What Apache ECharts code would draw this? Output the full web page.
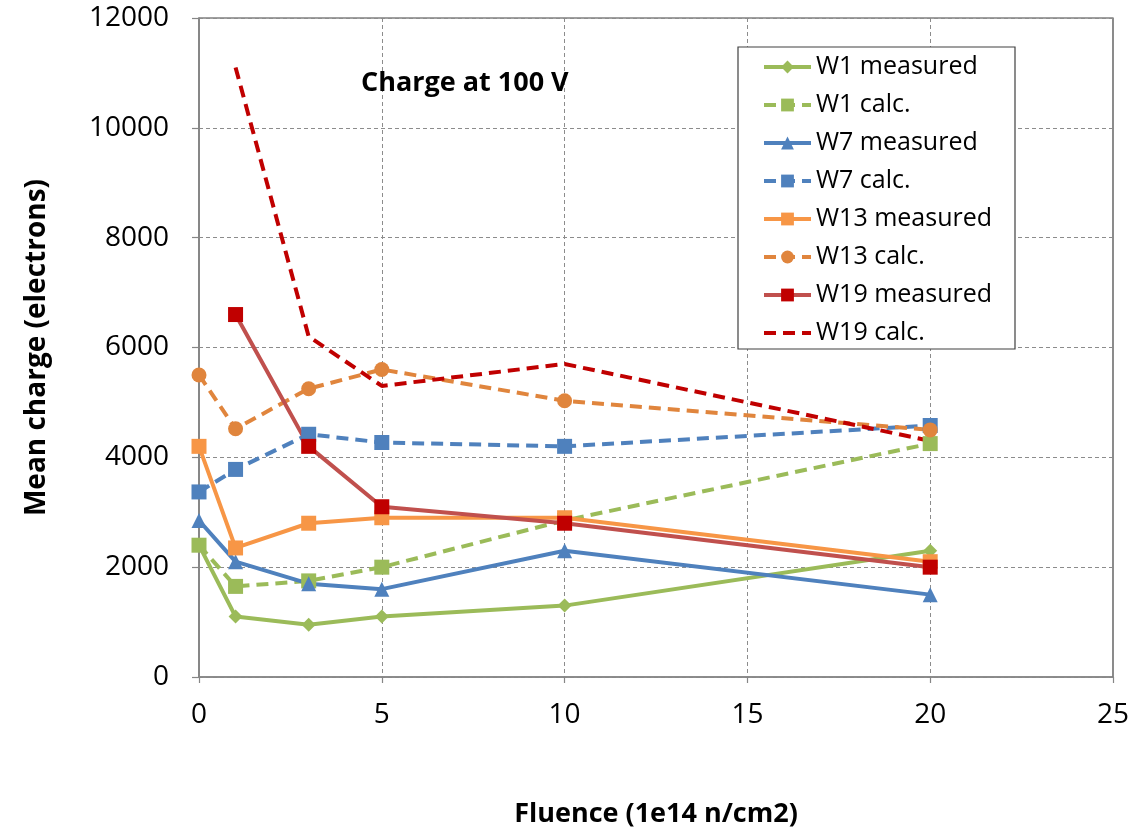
<!DOCTYPE html>
<html>
<head>
<meta charset="utf-8">
<script src="https://cdn.jsdelivr.net/npm/echarts@6/dist/echarts.min.js"></script>
<style>
  html, body { margin: 0; padding: 0; background: #fff; }
  #chart { width: 1133px; height: 830px; }
</style>
</head>
<body>
<div id="chart"></div>
<script>
// Fluence points (1e14 n/cm2)
const fluence = [0, 1, 3, 5, 10, 20];

// Mean charge (electrons) per wafer
const w1Measured  = [2400, 1100, 950, 1100, 1300, 2300];
const w1Calc      = [2400, 1650, 1750, 2000, 2850, 4250];
const w7Measured  = [2850, 2100, 1700, 1600, 2300, 1500];
const w7Calc      = [3370, 3780, 4420, 4270, 4200, 4580];
const w13Measured = [4200, 2350, 2800, 2900, 2900, 2100];
const w13Calc     = [5500, 4520, 5250, 5600, 5030, 4500];
const w19Measured = [null, 6600, 4200, 3100, 2800, 2000];
const w19Calc     = [null, 11100, 6200, 5300, 5700, 4300];

const xTicks = [0, 5, 10, 15, 20, 25];
const yTicks = [0, 2000, 4000, 6000, 8000, 10000, 12000];

const FONT = '"Open Sans", "Noto Sans", sans-serif';
const LINE_WIDTH = 4;

function pairs(values) {
  const out = [];
  values.forEach((v, i) => { if (v !== null) out.push([fluence[i], v]); });
  return out;
}

function makeSeries(name, values, opts) {
  return {
    name: name,
    type: 'line',
    data: pairs(values),
    symbol: opts.symbol,
    symbolSize: opts.symbolSize || 14,
    showSymbol: opts.symbol !== 'none',
    lineStyle: { color: opts.lineColor, width: LINE_WIDTH, type: opts.dashed ? [12, 7] : 'solid' },
    itemStyle: { color: opts.markerColor || opts.lineColor },
    emphasis: { disabled: true },
    animation: false
  };
}

const series = [
  makeSeries('W1 measured',  w1Measured,  { symbol: 'diamond',  symbolSize: 14, lineColor: '#9BBB59' }),
  makeSeries('W1 calc.',     w1Calc,      { symbol: 'rect',     symbolSize: 15, lineColor: '#9BBB59', dashed: true }),
  makeSeries('W7 measured',  w7Measured,  { symbol: 'triangle', symbolSize: 15, lineColor: '#4F81BD' }),
  makeSeries('W7 calc.',     w7Calc,      { symbol: 'rect',     symbolSize: 15, lineColor: '#4F81BD', dashed: true }),
  makeSeries('W13 measured', w13Measured, { symbol: 'rect',     symbolSize: 15, lineColor: '#F79646' }),
  makeSeries('W13 calc.',    w13Calc,     { symbol: 'circle',   symbolSize: 15, lineColor: '#E0853D', dashed: true }),
  makeSeries('W19 measured', w19Measured, { symbol: 'rect',     symbolSize: 15, lineColor: '#C0504D', markerColor: '#C00000' }),
  makeSeries('W19 calc.',    w19Calc,     { symbol: 'none',     lineColor: '#C00000', dashed: true })
];

// legend entries; the calc-only dashed line carries no marker
const legendData = series.map(s => {
  const item = {
    name: s.name,
    lineStyle: { width: LINE_WIDTH, color: s.lineStyle.color, type: s.lineStyle.type }
  };
  if (s.symbol === 'none') item.itemStyle = { color: 'rgba(0,0,0,0)', borderWidth: 0 };
  return item;
});

const chart = echarts.init(document.getElementById('chart'), null, { renderer: 'canvas' });

chart.setOption({
  backgroundColor: '#ffffff',
  animation: false,
  textStyle: { fontFamily: FONT },
  title: {
    text: 'Charge at 100 V',
    left: 356,
    top: 65,
    textStyle: { fontFamily: FONT, fontSize: 27, fontWeight: 'bold', color: '#000' }
  },
  grid: {
    left: 199, right: 20, top: 18, bottom: 153,
    outerBoundsMode: 'none',
    containLabel: false,
    show: true, borderColor: '#404040', borderWidth: 1.2, backgroundColor: '#fff'
  },
  legend: {
    orient: 'vertical',
    left: 762,
    top: 54,
    padding: 0,
    itemWidth: 47,
    itemHeight: 16,
    itemGap: 12,
    selectedMode: false,
    textStyle: { fontFamily: FONT, fontSize: 25, lineHeight: 26, color: '#000' },
    data: legendData
  },
  graphic: [{
    type: 'rect',
    z: 3,
    shape: { x: 738, y: 47, width: 277, height: 302 },
    style: { fill: '#fff', stroke: '#404040', lineWidth: 1.2 }
  }],
  xAxis: {
    type: 'value',
    min: xTicks[0],
    max: xTicks[xTicks.length - 1],
    interval: 5,
    name: 'Fluence (1e14 n/cm2)',
    nameLocation: 'middle',
    nameGap: 124,
    nameTextStyle: { fontFamily: FONT, fontSize: 27, fontWeight: 'bold', color: '#000' },
    axisLine: { show: true, lineStyle: { color: '#868686', width: 1.5 } },
    axisTick: { show: true, inside: false, length: 6, lineStyle: { color: '#868686', width: 1.2 } },
    axisLabel: { fontFamily: FONT, fontSize: 28, color: '#000', margin: 24 },
    splitLine: { show: true, lineStyle: { color: '#8c8c8c', width: 1, type: [4, 3] } }
  },
  yAxis: {
    type: 'value',
    min: yTicks[0],
    max: yTicks[yTicks.length - 1],
    interval: 2000,
    name: 'Mean charge (electrons)',
    nameLocation: 'middle',
    nameGap: 148,
    nameTextStyle: { fontFamily: FONT, fontSize: 28, fontWeight: 'bold', color: '#000' },
    axisLine: { show: true, lineStyle: { color: '#868686', width: 1.5 } },
    axisTick: { show: true, inside: false, length: 7, lineStyle: { color: '#868686', width: 1.2 } },
    axisLabel: { fontFamily: FONT, fontSize: 28, color: '#000', margin: 30, formatter: v => String(v) },
    splitLine: { show: true, lineStyle: { color: '#8c8c8c', width: 1, type: [4, 3] } }
  },
  series: series
});
</script>
</body>
</html>
